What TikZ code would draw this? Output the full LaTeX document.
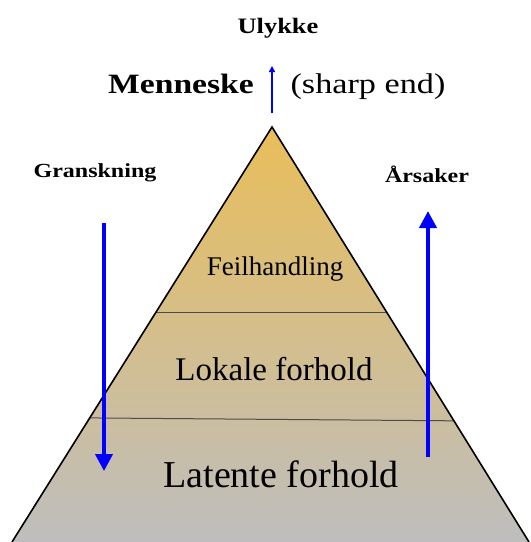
\documentclass[tikz,border=0pt]{standalone}
\usepackage{fontspec}
\setmainfont{Liberation Serif}
\newfontfamily\widefont[FakeStretch=1.2]{Liberation Serif}
\usetikzlibrary{arrows.meta, calc}
\definecolor{gull}{RGB}{233,190,90}
\definecolor{sand}{RGB}{214,194,152}
\definecolor{graa}{RGB}{190,190,190}
\definecolor{blaa}{RGB}{0,0,255}

\begin{document}
\begin{tikzpicture}[x = 1pt, y = -1pt,
    tekst/.style = {anchor = base, inner sep = 0pt},
    pil/.style = {blaa, line width = 4pt, -{Triangle[length = 17pt, width = 17pt]}}]
						\useasboundingbox (0,0) rectangle (531,542);
						\coordinate (topp) at (272,127);
						\coordinate (vbunn) at (12,542);
						\coordinate (hbunn) at (529,542);
						\shade[top color = gull, middle color = sand, bottom color = graa] (topp) -- (hbunn) -- (vbunn) -- cycle;
						\draw[black!70, line width = 1pt] ($(topp)!0.4458!(vbunn)$) -- ($(topp)!0.4458!(hbunn)$);
						\draw[black!70, line width = 1pt] ($(topp)!0.701!(vbunn)$) -- ($(topp)!0.708!(hbunn)$);
						\draw[line width = 1.6pt] (vbunn) -- (topp) -- (hbunn);
						\node[tekst, font = \fontsize{27}{27}\selectfont] (feil) at (275,275) {Feilhandling};
						\node[tekst, font = \fontsize{33}{33}\selectfont] (lokale) at (274,380) {Lokale forhold};
						\node[tekst, font = \fontsize{38}{38}\selectfont] (latente) at (281,487) {Latente forhold};
						\node[tekst, font = \widefont\bfseries\fontsize{28}{28}\selectfont] (menneske) at (181,93) {Menneske};
						\node[tekst, font = \widefont\fontsize{28.5}{28.5}\selectfont] (sharp) at (368,93) {(sharp end)};
						\node[tekst, font = \widefont\bfseries\fontsize{22}{22}\selectfont] (ulykke) at (278,33) {Ulykke};
						\node[tekst, font = \widefont\bfseries\fontsize{20}{20}\selectfont] (gransk) at (95,177) {Granskning};
						\node[tekst, font = \widefont\bfseries\fontsize{20}{20}\selectfont] (aarsak) at (427,182) {Årsaker};
						\coordinate (s1) at (272,113);
						\coordinate (s2) at (272,66);
						\coordinate (g1) at (104,223);
						\coordinate (g2) at (104,471);
						\coordinate (a1) at (428,457);
						\coordinate (a2) at (428,211);
						\draw[blaa, line width = 2pt, -{Triangle[length = 6pt, width = 6pt]}] (s1) -- (s2);
						\draw[pil] (g1) -- (g2);
						\draw[pil] (a1) -- (a2);
					\end{tikzpicture}
\end{document}
